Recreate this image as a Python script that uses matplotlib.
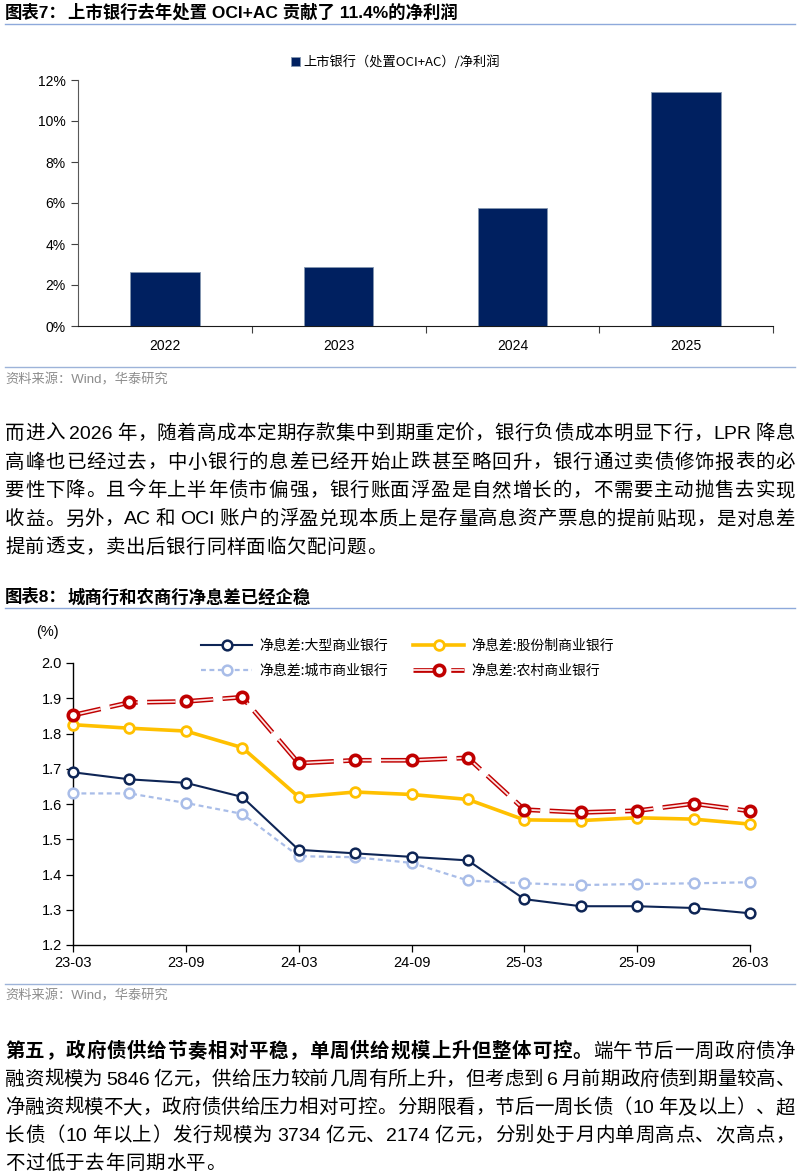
import matplotlib
matplotlib.use('Agg')
import matplotlib.pyplot as plt
from matplotlib.lines import Line2D
from matplotlib.legend_handler import HandlerTuple
import numpy as np

CJK = 'Noto Sans CJK SC'
LAT = 'Liberation Sans'
plt.rcParams['font.family'] = [LAT, CJK, 'DejaVu Sans']

# ---------------- data ----------------
years = ['2022', '2023', '2024', '2025']
oci_share = [2.63, 2.88, 5.78, 11.42]
bar_label = '上市银行（处置OCI+AC）/净利润'

quarters = ['23-03', '23-06', '23-09', '23-12', '24-03', '24-06', '24-09',
            '24-12', '25-03', '25-06', '25-09', '25-12', '26-03']
nim_large = [1.69, 1.67, 1.66, 1.62, 1.47, 1.46, 1.45, 1.44, 1.33, 1.31, 1.31, 1.305, 1.29]
nim_joint = [1.825, 1.815, 1.807, 1.76, 1.62, 1.634, 1.627, 1.613, 1.555, 1.553, 1.561, 1.557, 1.543]
nim_city = [1.63, 1.63, 1.603, 1.572, 1.452, 1.449, 1.433, 1.383, 1.375, 1.37, 1.373, 1.375, 1.378]
nim_rural = [1.852, 1.888, 1.891, 1.903, 1.716, 1.724, 1.724, 1.731, 1.584, 1.576, 1.581, 1.601, 1.58]
series_names = ['净息差:大型商业银行', '净息差:股份制商业银行', '净息差:城市商业银行', '净息差:农村商业银行']

title1_prefix = '图表7：'
title1 = '上市银行去年处置 OCI+AC 贡献了 11.4%的净利润'
title2_prefix = '图表8：'
title2 = '城商行和农商行净息差已经企稳'
source_text = '资料来源：Wind，华泰研究'

para1 = [
    [('而进入 2026 年，随着高成本定期存款集中到期重定价，银行负债成本明显下行，LPR 降息', 'normal')],
    [('高峰也已经过去，中小银行的息差已经开始止跌甚至略回升，银行通过卖债修饰报表的必', 'normal')],
    [('要性下降。且今年上半年债市偏强，银行账面浮盈是自然增长的，不需要主动抛售去实现', 'normal')],
    [('收益。另外，AC 和 OCI 账户的浮盈兑现本质上是存量高息资产票息的提前贴现，是对息差', 'normal')],
    [('提前透支，卖出后银行同样面临欠配问题。', 'normal')],
]
para2 = [
    [('第五，政府债供给节奏相对平稳，单周供给规模上升但整体可控。', 'bold'), ('端午节后一周政府债净', 'normal')],
    [('融资规模为 5846 亿元，供给压力较前几周有所上升，但考虑到 6 月前期政府债到期量较高、', 'normal')],
    [('净融资规模不大，政府债供给压力相对可控。分期限看，节后一周长债（10 年及以上）、超', 'normal')],
    [('长债（10 年以上）发行规模为 3734 亿元、2174 亿元，分别处于月内单周高点、次高点，', 'normal')],
    [('不过低于去年同期水平。', 'normal')],
]

# ---------------- figure ----------------
W, H = 800, 1175
fig = plt.figure(figsize=(W / 100, H / 100), dpi=100)
renderer = fig.canvas.get_renderer()


def fx(x):
    return x / W


def fy(y):
    return 1 - y / H


def hline(y, color='#8EA9DB', lw=1.0):
    fig.add_artist(Line2D([fx(5), fx(795)], [fy(y), fy(y)], color=color, lw=lw))


def header(prefix, text, y_center, y_line):
    fig.text(fx(5), fy(y_center), prefix, fontsize=12.5, weight='bold', family=[LAT, CJK],
             va='center', ha='left')
    fig.text(fx(68), fy(y_center), text, fontsize=12.5, weight='bold', family=[LAT, CJK],
             va='center', ha='left')
    hline(y_line)


def source(y_line, y_text):
    hline(y_line, color='#9DB3D9', lw=1.0)
    fig.text(fx(5), fy(y_text), source_text, fontsize=9.5, family=[LAT, CJK],
             color='#8C8C8C', va='center', ha='left')


def draw_line(segments, y_center, justify, size=14, x0=5, x1=795):
    toks = []
    for text, weight in segments:
        buf = ''
        for ch in text:
            if ch.isascii() and ch != ' ':
                buf += ch
            else:
                if buf:
                    toks.append((buf, weight))
                    buf = ''
                toks.append((ch, weight))
        if buf:
            toks.append((buf, weight))
    arts, widths = [], []
    for t, w in toks:
        if t == ' ':
            arts.append(None)
            widths.append(4.0)
            continue
        fam = [LAT, CJK] if t.isascii() else [CJK]
        a = fig.text(0, 0, t, fontsize=size, family=fam, weight=w, va='baseline', ha='left',
                     color='black')
        widths.append(a.get_window_extent(renderer).width)
        arts.append(a)
    n = len(toks)
    gap = (x1 - x0 - sum(widths)) / (n - 1) if (justify and n > 1) else 0.6
    x = x0
    base = y_center + 7
    for a, wd in zip(arts, widths):
        if a is not None:
            a.set_position((fx(x), fy(base)))
        x += wd + gap


# ---------------- header 1 + bar chart ----------------
header(title1_prefix, title1, 12, 24)

ax1 = fig.add_axes([fx(78), fy(326), (773 - 78) / W, (326 - 80) / H])
xb = np.arange(len(years))
ax1.bar(xb, oci_share, width=0.4, color='#002060', edgecolor='#8497B0', linewidth=0.6,
        label=bar_label, zorder=3)
ax1.set_xlim(-0.5, len(years) - 0.5)
ax1.set_ylim(0, 12)
ax1.set_yticks(np.arange(0, 13, 2))
ax1.yaxis.set_major_formatter(lambda v, p: f'{v:.0f}%')
ax1.set_xticks(np.arange(0.5, len(years), 1.0))
ax1.set_xticklabels([])
ax1.set_xticks(xb, minor=True)
ax1.set_xticklabels(years, minor=True)
ax1.tick_params(axis='x', which='major', length=5, width=0.8, direction='out', color='#404040')
ax1.tick_params(axis='x', which='minor', length=0, pad=9, labelsize=10)
ax1.tick_params(axis='y', length=5, width=0.8, direction='out', pad=4, labelsize=10,
                color='#404040')
for s in ['top', 'right']:
    ax1.spines[s].set_visible(False)
ax1.spines['left'].set_color('#595959')
ax1.spines['bottom'].set_color('#1a1a1a')
ax1.legend(loc='upper left', bbox_to_anchor=(fx(291), fy(55)), bbox_transform=fig.transFigure,
           frameon=False, prop={'family': CJK, 'size': 9.5}, handlelength=0.7, handleheight=0.7,
           handletextpad=0.25, borderpad=0, borderaxespad=0)

source(367, 380)

# ---------------- paragraph 1 ----------------
for i, seg in enumerate(para1):
    draw_line(seg, 432 + 28.5 * i, justify=(i < len(para1) - 1))

# ---------------- header 2 + line chart ----------------
header(title2_prefix, title2, 597, 608)

ax2 = fig.add_axes([fx(73), fy(945), (750 - 73) / W, (945 - 663) / H])
xq = np.arange(len(quarters))

c_large, c_joint, c_city, c_rural = '#0E2555', '#FFC000', '#A9BDE8', '#C00000'

l_city, = ax2.plot(xq, nim_city, color=c_city, lw=1.6, linestyle=(0, (2.2, 1.6)),
                   marker='o', ms=7, mfc='white', mec=c_city, mew=1.8, clip_on=False, zorder=3)
l_large, = ax2.plot(xq, nim_large, color=c_large, lw=1.5, marker='o', ms=7, mfc='white',
                    mec=c_large, mew=1.8, clip_on=False, zorder=4)
l_joint, = ax2.plot(xq, nim_joint, color=c_joint, lw=2.6, marker='o', ms=7, mfc='white',
                    mec=c_joint, mew=2.0, clip_on=False, zorder=5)
lw_o, lw_i = 3.4, 1.3
r_outer, = ax2.plot(xq, nim_rural, color=c_rural, lw=lw_o, linestyle=(0, (6, 2)),
                    dash_capstyle='butt', clip_on=False, zorder=6)
r_inner, = ax2.plot(xq, nim_rural, color='#FBE3E3', lw=lw_i,
                    linestyle=(0, (6 * lw_o / lw_i, 2 * lw_o / lw_i)),
                    dash_capstyle='butt', clip_on=False, zorder=6.5)
r_mark, = ax2.plot(xq, nim_rural, linestyle='none', marker='o', ms=7.5, mfc='white',
                   mec=c_rural, mew=2.6, clip_on=False, zorder=7)

ax2.set_xlim(0, len(quarters) - 1)
ax2.set_ylim(1.2, 2.0)
ax2.set_yticks(np.round(np.arange(1.2, 2.01, 0.1), 1))
ax2.yaxis.set_major_formatter(lambda v, p: f'{v:.1f}')
ax2.set_xticks(xq[::2])
ax2.set_xticklabels(quarters[::2])
ax2.tick_params(axis='both', length=5, width=0.9, direction='out', labelsize=10.5)
ax2.tick_params(axis='x', pad=3)
ax2.tick_params(axis='y', pad=3)
for s in ['top', 'right']:
    ax2.spines[s].set_visible(False)
for s in ['left', 'bottom']:
    ax2.spines[s].set_linewidth(1.0)
fig.text(fx(47), fy(632), '(%)', fontsize=10.5, va='center', ha='center')

ax2.legend(handles=[l_large, l_city, l_joint, (r_outer, r_inner, r_mark)],
           labels=[series_names[0], series_names[2], series_names[1], series_names[3]],
           handler_map={tuple: HandlerTuple(ndivide=1)}, ncol=2, numpoints=1,
           loc='upper left', bbox_to_anchor=(fx(201), fy(639)), bbox_transform=fig.transFigure,
           frameon=False, prop={'family': CJK, 'size': 10}, handlelength=3.7,
           handletextpad=0.5, columnspacing=1.8, labelspacing=0.75, borderpad=0,
           borderaxespad=0)

source(984, 996)

# ---------------- paragraph 2 ----------------
for i, seg in enumerate(para2):
    draw_line(seg, 1050 + 28 * i, justify=(i < len(para2) - 1))

fig.savefig('out.png', dpi=100)
